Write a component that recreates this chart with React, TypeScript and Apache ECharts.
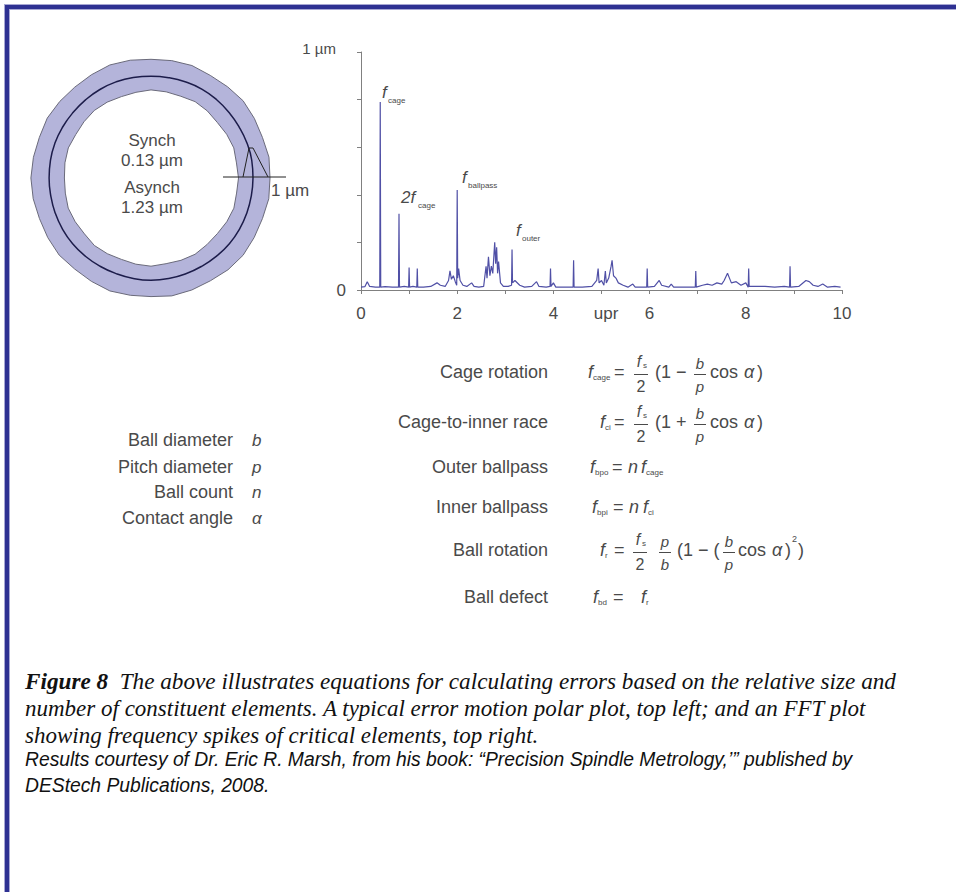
import React, { useEffect, useRef } from 'react';
import * as echarts from 'echarts';

// ---------- FFT spectrum (x in upr, y in µm) ----------
const fftFreq = [
  0.0, 0.08, 0.13, 0.18, 0.3, 0.39, 0.4, 0.41, 0.5, 0.65, 0.78, 0.79, 0.8, 0.9, 0.99, 1.0, 1.01, 1.08, 1.16, 1.17,
  1.18, 1.3, 1.45, 1.58, 1.65, 1.75, 1.82, 1.85, 1.88, 1.92, 1.96, 1.99, 2.0, 2.01, 2.03, 2.06, 2.12, 2.2, 2.3, 2.35,
  2.45, 2.55, 2.6, 2.62, 2.65, 2.68, 2.71, 2.74, 2.78, 2.8, 2.82, 2.84, 2.86, 2.9, 2.96, 3.06, 3.13, 3.14, 3.15, 3.2,
  3.3, 3.4, 3.55, 3.65, 3.7, 3.85, 3.93, 3.94, 3.95, 4.0, 4.05, 4.25, 4.41, 4.42, 4.43, 4.6, 4.8, 4.9, 4.93, 4.95,
  5.0, 5.05, 5.08, 5.1, 5.15, 5.2, 5.22, 5.25, 5.3, 5.35, 5.45, 5.55, 5.65, 5.7, 5.85, 5.94, 5.95, 5.96, 6.1, 6.2,
  6.25, 6.4, 6.45, 6.5, 6.8, 6.95, 6.96, 6.97, 7.1, 7.2, 7.3, 7.4, 7.5, 7.55, 7.62, 7.66, 7.7, 7.8, 7.9, 8.0,
  8.05, 8.06, 8.07, 8.2, 8.4, 8.6, 8.8, 8.91, 8.92, 8.93, 9.1, 9.25, 9.32, 9.4, 9.5, 9.6, 9.7, 9.85, 9.97,
];
const fftAmp = [
  0.012, 0.014, 0.035, 0.015, 0.012, 0.012, 0.79, 0.012, 0.014, 0.012, 0.012, 0.32, 0.012, 0.015, 0.012, 0.095, 0.012, 0.015, 0.012, 0.09,
  0.012, 0.012, 0.015, 0.03, 0.02, 0.015, 0.04, 0.08, 0.045, 0.06, 0.035, 0.02, 0.42, 0.05, 0.09, 0.04, 0.02, 0.015, 0.03, 0.015,
  0.012, 0.015, 0.1, 0.05, 0.14, 0.06, 0.1, 0.07, 0.2, 0.11, 0.18, 0.07, 0.12, 0.03, 0.015, 0.015, 0.02, 0.17, 0.03, 0.04,
  0.02, 0.012, 0.015, 0.035, 0.015, 0.012, 0.015, 0.09, 0.015, 0.03, 0.012, 0.012, 0.012, 0.125, 0.012, 0.012, 0.015, 0.04, 0.09, 0.03,
  0.04, 0.02, 0.08, 0.03, 0.05, 0.1, 0.125, 0.06, 0.05, 0.03, 0.02, 0.012, 0.025, 0.012, 0.012, 0.012, 0.09, 0.012, 0.015, 0.04,
  0.02, 0.012, 0.025, 0.012, 0.012, 0.012, 0.08, 0.012, 0.02, 0.025, 0.02, 0.03, 0.025, 0.04, 0.07, 0.05, 0.03, 0.035, 0.02, 0.03,
  0.012, 0.09, 0.015, 0.015, 0.015, 0.012, 0.015, 0.012, 0.1, 0.012, 0.015, 0.04, 0.035, 0.02, 0.015, 0.025, 0.012, 0.015, 0.012,
];
const xLabelValues = [0, 2, 4, 6, 8, 10];
const xAxisName = 'upr';
const yTopLabel = '1 µm';

// ---------- Polar error-motion plot ----------
const ringAngle = [
  0, 10, 20, 30, 40, 50, 60, 70, 80, 90, 100, 110, 120, 130, 140, 150, 160, 170, 180,
  190, 200, 210, 220, 230, 240, 250, 260, 270, 280, 290, 300, 310, 320, 330, 340, 350, 360,
];
const outerRadius = [
  119, 119.8, 118.6, 119.3, 120.2, 119.1, 118.5, 119.7, 119.2, 118.7, 119.6, 120.3, 119.2, 118.6, 119.1, 119.8, 118.8, 119.4, 120.1,
  119.6, 118.7, 119.2, 119.9, 118.8, 119.3, 120.2, 119.1, 118.6, 119.7, 119.2, 118.7, 119.8, 120.2, 119.1, 118.6, 119.6, 119,
];
const innerRadius = [
  87.5, 86.8, 88.1, 87.4, 86.5, 87.6, 88.2, 87, 87.5, 88.1, 87, 86.6, 87.6, 88.2, 87.5, 86.9, 88, 87.4, 86.6,
  87, 88.1, 87.5, 86.9, 88.1, 87.4, 86.6, 87.5, 88.2, 87, 87.6, 88.1, 87, 86.6, 87.5, 88.2, 86.9, 87.5,
];
const synchRadius = [
  102, 102.3, 102.1, 101.8, 101.9, 102.2, 102.4, 102.1, 101.8, 101.7, 102, 102.3, 102.2, 101.9, 101.8, 102, 102.2, 102.1, 101.9,
  101.8, 102, 102.2, 102.3, 102.1, 101.9, 101.8, 102, 102.2, 102.1, 101.9, 101.8, 102, 102.3, 102.2, 102, 101.9, 102,
];
const polarTexts = ['Synch', '0.13 µm', 'Asynch', '1.23 µm'];

// ---------- Equation panel ----------
const variableNames = ['Ball diameter', 'Pitch diameter', 'Ball count', 'Contact angle'];
const variableSymbols = ['b', 'p', 'n', 'α'];
const equationNames = ['Cage rotation', 'Cage-to-inner race', 'Outer ballpass', 'Inner ballpass', 'Ball rotation', 'Ball defect'];

const captionLines = [
  'The above illustrates equations for calculating errors based on the relative size and',
  'number of constituent elements. A typical error motion polar plot, top left; and an FFT plot',
  'showing frequency spikes of critical elements, top right.',
];
const creditLines = [
  'Results courtesy of Dr. Eric R. Marsh, from his book: “Precision Spindle Metrology,’” published by',
  'DEStech Publications, 2008.',
];

const SANS = '"Liberation Sans", Arial, Helvetica, sans-serif';
const SERIF = '"Liberation Serif", "Times New Roman", serif';
const GRAY = '#4a4a4a';
const FS = 17;
const LBL = 18;
const EQ = 18;

type Opt = { size?: number; italic?: boolean; bold?: boolean; align?: string; fill?: string; family?: string };
function T(x: number, y: number, text: string, o: Opt = {}) {
  return {
    type: 'text',
    x,
    y,
    z: 100,
    silent: true,
    style: {
      text,
      fill: o.fill || GRAY,
      fontSize: o.size || FS,
      fontFamily: o.family || SANS,
      fontStyle: o.italic ? 'italic' : 'normal',
      fontWeight: o.bold ? 'bold' : 'normal',
      align: o.align || 'left',
      verticalAlign: 'middle',
    },
  };
}
function L(x1: number, y1: number, x2: number, y2: number, color = GRAY, w = 1) {
  return { type: 'line', z: 100, silent: true, shape: { x1, y1, x2, y2 }, style: { stroke: color, lineWidth: w } };
}
// italic symbol with subscript
function FS_(x: number, y: number, main: string, sub: string, subSize = 8) {
  const els: any[] = [T(x, y, main, { italic: true, size: EQ })];
  if (sub) els.push(T(x + 5, y + 5, sub, { size: subSize }));
  return els;
}
function frac(cx: number, y0: number, num: string, numSub: string, den: string, w = 14, size = 16) {
  const els: any[] = [];
  if (numSub) {
    els.push(T(cx - 2, y0 - 11, num, { italic: true, size, align: 'center' }));
    els.push(T(cx + 2, y0 - 7, numSub, { size: 8 }));
  } else {
    els.push(T(cx, y0 - 9, num, { italic: true, size, align: 'center' }));
  }
  els.push(L(cx - w / 2, y0 + 2.5, cx + w / 2, y0 + 2.5, GRAY, 1));
  els.push(T(cx, y0 + 14, den, { size, align: 'center', italic: den !== '2' }));
  return els;
}
function cosAlpha(x: number, y: number) {
  return [T(x, y, 'cos', { size: EQ }), T(x + 34, y, 'α', { size: EQ, italic: true }), T(x + 47, y, ')', { size: EQ })];
}

function buildGraphic() {
  const g: any[] = [];
  // frame
  g.push({ type: 'rect', silent: true, shape: { x: 4, y: 4, width: 6, height: 900 }, style: { fill: '#a7a7d3' } });
  g.push({ type: 'rect', silent: true, shape: { x: 4, y: 4, width: 960, height: 6 }, style: { fill: '#a7a7d3' } });
  g.push({ type: 'rect', silent: true, shape: { x: 5, y: 5, width: 4, height: 900 }, style: { fill: '#2e3192' } });
  g.push({ type: 'rect', silent: true, shape: { x: 5, y: 5, width: 960, height: 4 }, style: { fill: '#2e3192' } });

  // polar texts
  const py = [140, 160, 187, 207];
  polarTexts.forEach((t, i) => g.push(T(152, py[i], t, { align: 'center' })));
  // 1 µm scale marker on polar plot
  g.push({ type: 'polyline', z: 100, silent: true, shape: { points: [[243, 177], [249, 148], [253, 148], [268, 177]] }, style: { stroke: '#222', lineWidth: 1, fill: null } });
  g.push(L(223, 177, 286, 177, '#222', 1));
  g.push(T(271, 190, '1 µm'));

  // FFT annotations
  g.push(T(336, 48, yTopLabel, { align: 'right', size: 15 }));
  g.push(T(606, 313, xAxisName, { align: 'center' }));
  g.push(T(382, 92, 'f', { italic: true }), T(388, 100, 'cage', { size: 8 }));
  g.push(T(401, 197, '2f', { italic: true }), T(418, 205, 'cage', { size: 8 }));
  g.push(T(462, 177, 'f', { italic: true }), T(468, 185, 'ballpass', { size: 8 }));
  g.push(T(516, 230, 'f', { italic: true }), T(522, 238, 'outer', { size: 8 }));

  // variables list
  const vy = [440, 467, 492, 518];
  variableNames.forEach((t, i) => {
    g.push(T(233, vy[i], t, { align: 'right', size: LBL }));
    g.push(T(252, vy[i], variableSymbols[i], { italic: true }));
  });

  // equation names
  const ey = [372, 422, 467, 507, 550, 597];
  equationNames.forEach((t, i) => g.push(T(548, ey[i], t, { align: 'right', size: LBL })));

  // Row 1: f_cage = f_s/2 (1 − b/p cos α)
  let y = ey[0];
  g.push(...FS_(588, y, 'f', 'cage'));
  g.push(T(614, y, '=', { size: EQ }));
  g.push(...frac(641, y, 'f', 's', '2'));
  g.push(T(655, y, '(1 −', { size: EQ }));
  g.push(...frac(700, y, 'b', '', 'p', 12, 15));
  g.push(...cosAlpha(710, y));
  // Row 2: f_ci = f_s/2 (1 + b/p cos α)
  y = ey[1];
  g.push(...FS_(600, y, 'f', 'ci'));
  g.push(T(614, y, '=', { size: EQ }));
  g.push(...frac(641, y, 'f', 's', '2'));
  g.push(T(655, y, '(1 +', { size: EQ }));
  g.push(...frac(700, y, 'b', '', 'p', 12, 15));
  g.push(...cosAlpha(710, y));
  // Row 3: f_bpo = n f_cage
  y = ey[2];
  g.push(...FS_(590, y, 'f', 'bpo'));
  g.push(T(612, y, '=', { size: EQ }));
  g.push(T(628, y, 'n', { italic: true, size: EQ }));
  g.push(...FS_(641, y, 'f', 'cage'));
  // Row 4: f_bpi = n f_ci
  y = ey[3];
  g.push(...FS_(592, y, 'f', 'bpi'));
  g.push(T(613, y, '=', { size: EQ }));
  g.push(T(629, y, 'n', { italic: true, size: EQ }));
  g.push(...FS_(643, y, 'f', 'ci'));
  // Row 5: f_r = f_s/2 p/b (1 − (b/p cos α)²)
  y = ey[4];
  g.push(...FS_(600, y, 'f', 'r'));
  g.push(T(614, y, '=', { size: EQ }));
  g.push(...frac(640, y, 'f', 's', '2'));
  g.push(...frac(665, y, 'p', '', 'b', 12, 15));
  g.push(T(677, y, '(1 − (', { size: EQ }));
  g.push(...frac(729, y, 'b', '', 'p', 12, 15));
  g.push(...cosAlpha(738, y));
  g.push(T(792, y - 11, '2', { size: 9 }));
  g.push(T(798, y, ')', { size: EQ }));
  // Row 6: f_bd = f_r
  y = ey[5];
  g.push(...FS_(593, y, 'f', 'bd'));
  g.push(T(613, y, '=', { size: EQ }));
  g.push(...FS_(641, y, 'f', 'r'));

  // caption
  const CAP = 23.2;
  g.push({
    type: 'text', x: 25, y: 681, z: 100, silent: true,
    style: {
      text: '{b|Figure 8}  ' + captionLines[0],
      fill: '#111', fontSize: CAP, fontFamily: SERIF, fontStyle: 'italic', verticalAlign: 'middle',
      rich: { b: { fontWeight: 'bold', fontStyle: 'italic', fontSize: CAP, fontFamily: SERIF, fill: '#111' } },
    },
  });
  g.push(T(25, 708, captionLines[1], { size: 23, italic: true, family: SERIF, fill: '#111' }));
  g.push(T(25, 735, captionLines[2], { size: 23, italic: true, family: SERIF, fill: '#111' }));
  g.push(T(25, 759, creditLines[0], { size: 19.3, italic: true, fill: '#111' }));
  g.push(T(25, 785, creditLines[1], { size: 19.3, italic: true, fill: '#111' }));
  return g;
}

export default function App() {
  const ref = useRef<HTMLDivElement>(null);
  useEffect(() => {
    document.body.style.margin = '0';
    const chart = echarts.init(ref.current!, null, { renderer: 'svg' });
    const polarData = (r: number[]) => ringAngle.map((a, i) => [r[i], a]);
    chart.setOption({
      animation: false,
      backgroundColor: '#ffffff',
      grid: { left: 361, right: 956 - 842, top: 52, bottom: 892 - 290, containLabel: false },
      xAxis: {
        type: 'value', min: 0, max: 10, interval: 1, offset: 7,
        axisLine: { show: true, lineStyle: { color: '#808080', width: 1 } },
        axisTick: { show: true, length: 4, lineStyle: { color: '#808080' } },
        axisLabel: {
          color: GRAY, fontSize: FS, fontFamily: SANS, margin: 8,
          formatter: (v: number) => (xLabelValues.includes(v) ? String(v) : ''),
        },
        splitLine: { show: false },
      },
      yAxis: {
        type: 'value', min: 0, max: 1, interval: 0.2, offset: 9,
        axisLine: { show: true, lineStyle: { color: '#808080', width: 1 } },
        axisTick: { show: true, length: 4, lineStyle: { color: '#808080' } },
        axisLabel: { color: GRAY, fontSize: FS, fontFamily: SANS, margin: 6, formatter: (v: number) => (v === 0 ? '0' : '') },
        splitLine: { show: false },
      },
      polar: { center: [151, 178], radius: 125 },
      angleAxis: {
        type: 'value', min: 0, max: 360, startAngle: 0, clockwise: false,
        axisLine: { show: false }, axisTick: { show: false }, axisLabel: { show: false }, splitLine: { show: false },
      },
      radiusAxis: {
        type: 'value', min: 0, max: 125,
        axisLine: { show: false }, axisTick: { show: false }, axisLabel: { show: false }, splitLine: { show: false },
      },
      series: [
        {
          type: 'line', name: 'spectrum', xAxisIndex: 0, yAxisIndex: 0,
          data: fftFreq.map((f, i) => [f, fftAmp[i]]),
          showSymbol: false, silent: true,
          lineStyle: { color: '#5050a6', width: 1.2 },
        },
        {
          type: 'line', name: 'asynch outer', coordinateSystem: 'polar', polarIndex: 0,
          data: polarData(outerRadius), showSymbol: false, silent: true,
          lineStyle: { color: '#6a6a7a', width: 1 },
          areaStyle: { color: '#b4b4da', opacity: 1 },
        },
        {
          type: 'line', name: 'asynch inner', coordinateSystem: 'polar', polarIndex: 0,
          data: polarData(innerRadius), showSymbol: false, silent: true,
          lineStyle: { color: '#6a6a7a', width: 1 },
          areaStyle: { color: '#ffffff', opacity: 1 },
        },
        {
          type: 'line', name: 'synch', coordinateSystem: 'polar', polarIndex: 0,
          data: polarData(synchRadius), showSymbol: false, silent: true, smooth: true,
          lineStyle: { color: '#1c1c4a', width: 1.5 },
        },
      ],
      graphic: buildGraphic(),
    });
    return () => chart.dispose();
  }, []);
  return <div ref={ref} style={{ position: 'absolute', left: 0, top: 0, width: 956, height: 892, background: '#fff' }} />;
}
